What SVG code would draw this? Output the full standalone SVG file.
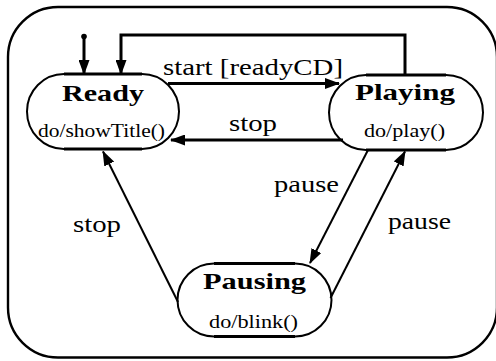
<svg xmlns="http://www.w3.org/2000/svg" width="496" height="361" viewBox="0 0 496 361">
  <style>
    .frame { fill: none; stroke: #000; stroke-width: 2.4; }
    .state { fill: #fff; stroke: #000; stroke-width: 2; }
    .edge { fill: none; stroke: #000; stroke-width: 3; }
    text { font-family: 'Liberation Serif', 'DejaVu Serif', 'Noto Serif', 'Times New Roman', Times, serif; fill: #000; }
    .title { font-weight: bold; font-size: 23px; }
    .act { font-size: 18px; }
    .conn { fill: none; stroke: #000; stroke-width: 3; }
    .conn.thin { stroke-width: 2; }
    .label { font-size: 23px; }
  </style>
  <defs>
    <marker id="arrow" markerUnits="userSpaceOnUse" markerWidth="15" markerHeight="11" refX="14" refY="5.5" orient="auto">
      <path d="M0,0 L15,5.5 L0,11 z" fill="#000"/>
    </marker>
  </defs>

  <!-- enclosing superstate -->
  <rect class="frame" x="8" y="7" width="489" height="350.5" rx="50" ry="50"/>

  <!-- states -->
  <g id="ready">
    <rect class="state" x="27" y="74" width="152" height="75" rx="37" ry="37.5"/>
    <path class="edge" d="M64,74 H142 M64,149 H142"/>
    <text class="title" x="62" y="100.5" textLength="82" lengthAdjust="spacingAndGlyphs">Ready</text>
    <text class="act" x="38" y="137" textLength="127" lengthAdjust="spacingAndGlyphs">do/showTitle()</text>
  </g>

  <g id="playing">
    <rect class="state" x="329" y="75" width="154" height="75" rx="37" ry="37.5"/>
    <path class="edge" d="M366,75 H446 M366,150 H446"/>
    <text class="title" x="355" y="100" textLength="100" lengthAdjust="spacingAndGlyphs">Playing</text>
    <text class="act" x="364" y="137" textLength="81" lengthAdjust="spacingAndGlyphs">do/play()</text>
  </g>

  <g id="pausing">
    <rect class="state" x="177.5" y="263.5" width="154" height="73" rx="36.5" ry="36.5"/>
    <path class="edge" d="M214,263.5 H295 M214,336.5 H295"/>
    <text class="title" x="203" y="288.5" textLength="103" lengthAdjust="spacingAndGlyphs">Pausing</text>
    <text class="act" x="209" y="328" textLength="89" lengthAdjust="spacingAndGlyphs">do/blink()</text>
  </g>

  <!-- transitions -->
  <g id="connectors">
    <!-- initial pseudostate -->
    <circle cx="84" cy="36.5" r="2.8" fill="#000"/>
    <path class="conn" d="M84,37 V74" marker-end="url(#arrow)"/>
    <!-- Playing back to Ready over the top -->
    <path class="conn" d="M405,75 V35 H121 V74" marker-end="url(#arrow)"/>
    <!-- start [readyCD] -->
    <path class="conn" d="M168,83.5 H339" marker-end="url(#arrow)"/>
    <!-- stop -->
    <path class="conn" d="M343,140 H171" marker-end="url(#arrow)"/>
    <!-- pause: Playing to Pausing -->
    <path class="conn thin" d="M368,150 L310,263" marker-end="url(#arrow)"/>
    <!-- pause: Pausing to Playing -->
    <path class="conn thin" d="M330.5,298 L405,151.5" marker-end="url(#arrow)"/>
    <!-- stop: Pausing to Ready -->
    <path class="conn thin" d="M178,302 L103,151.5" marker-end="url(#arrow)"/>
  </g>

  <!-- transition labels -->
  <g id="labels">
    <text class="label" x="163" y="75" textLength="180" lengthAdjust="spacingAndGlyphs">start [readyCD]</text>
    <text class="label" x="229" y="131" textLength="48" lengthAdjust="spacingAndGlyphs">stop</text>
    <text class="label" x="274" y="192" textLength="65" lengthAdjust="spacingAndGlyphs">pause</text>
    <text class="label" x="388" y="229" textLength="63" lengthAdjust="spacingAndGlyphs">pause</text>
    <text class="label" x="73" y="232" textLength="48" lengthAdjust="spacingAndGlyphs">stop</text>
  </g>
</svg>
